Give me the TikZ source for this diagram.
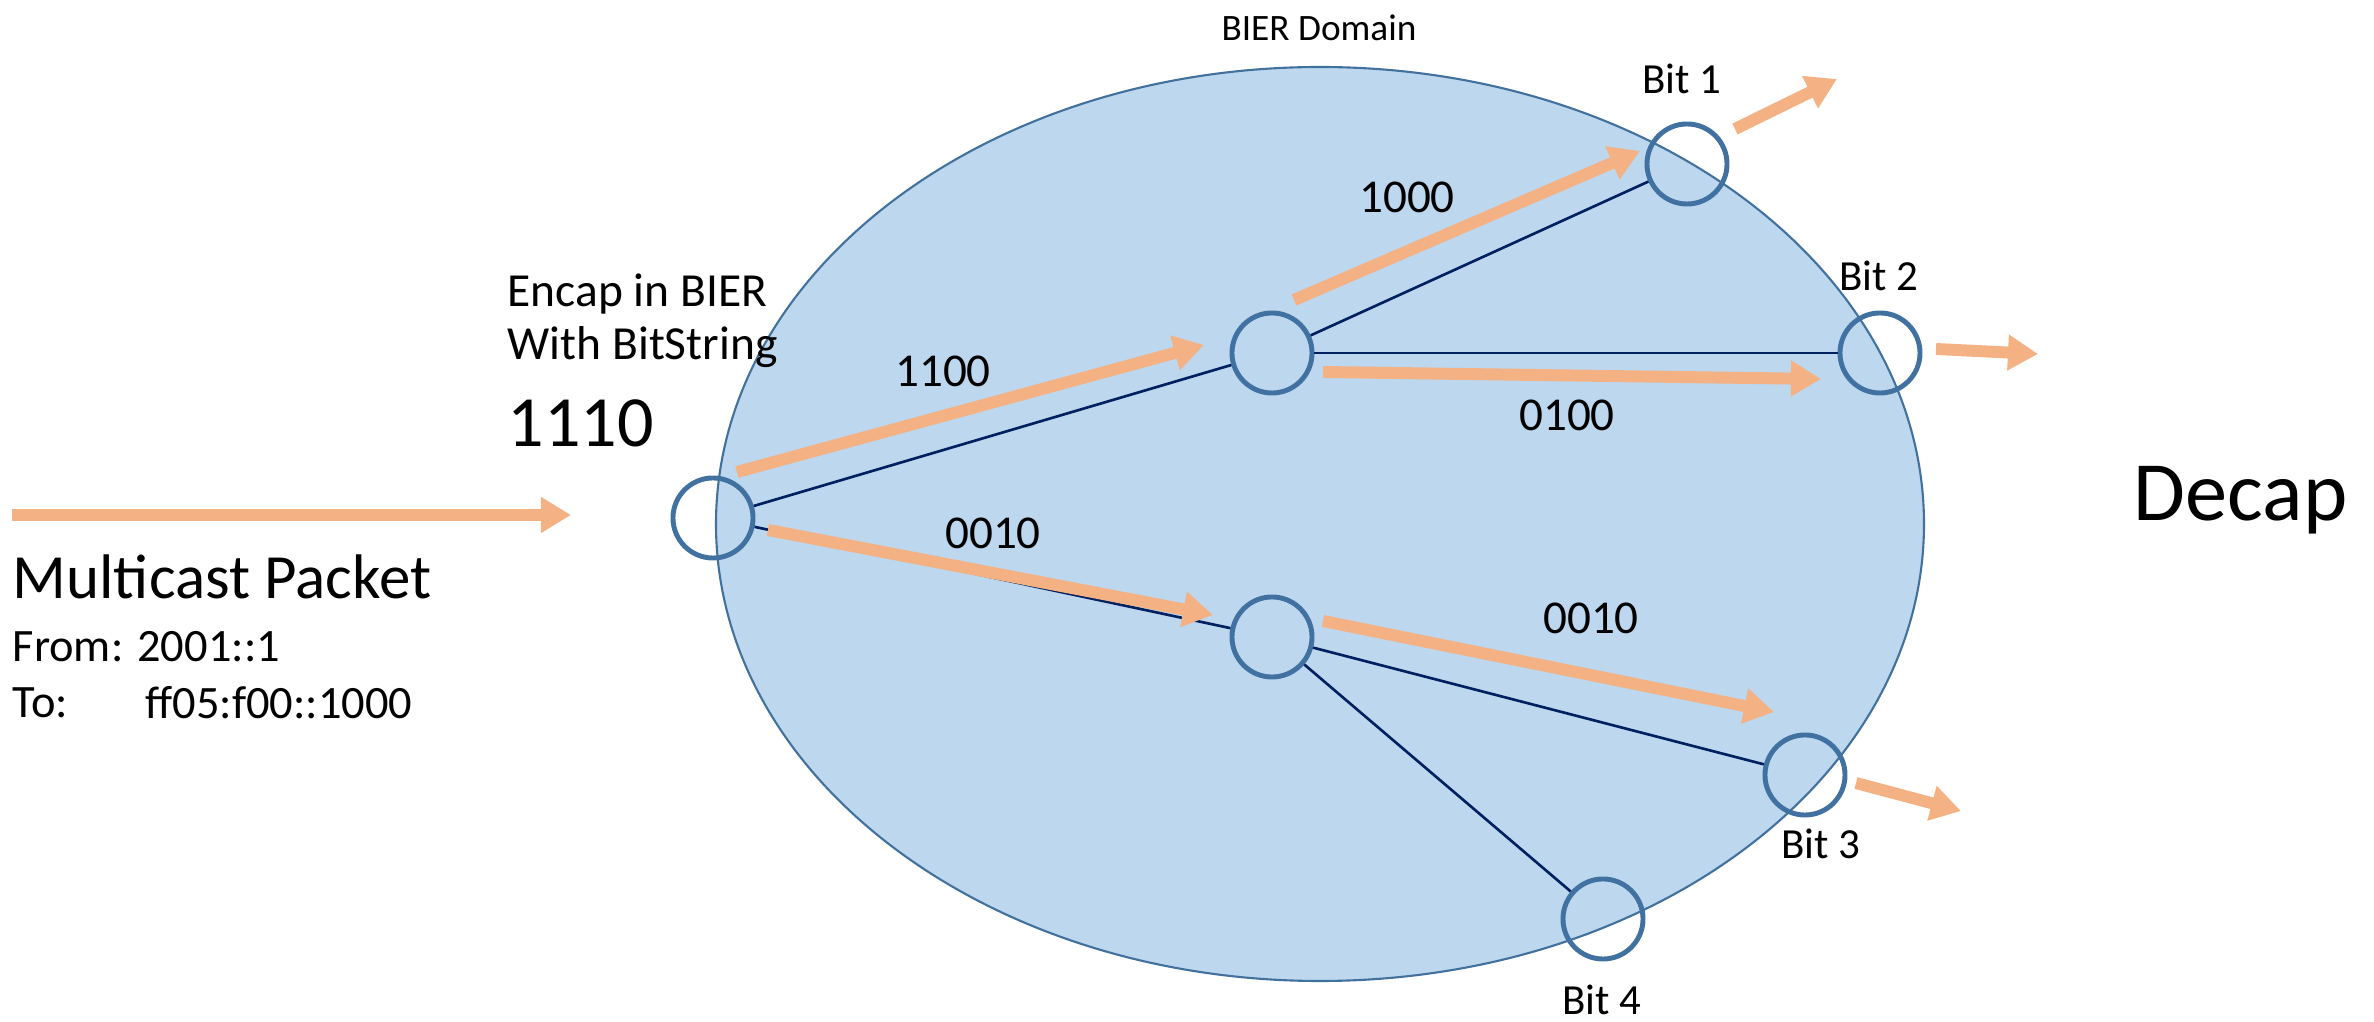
\documentclass[tikz,border=0pt]{standalone}
\usepackage{fontspec}
\setmainfont{Carlito}
\usetikzlibrary{arrows.meta}
\definecolor{domainfill}{RGB}{189,215,238}
\definecolor{domainedge}{RGB}{65,113,156}
\definecolor{routeredge}{RGB}{65,113,160}
\definecolor{linknavy}{RGB}{0,32,96}
\definecolor{pktorange}{RGB}{244,177,131}
\tikzset{
  router/.style={
    circle,
    draw=routeredge,
    line width=1.4pt,
    minimum size=0.8cm,
    inner sep=0pt
  },
  link/.style={
    draw=linknavy,
    line width=0.75pt
  },
  pkt/.style={
    draw=pktorange,
    line width=3.4pt,
    -{Triangle[length=0.3cm, width=0.34cm]}
  },
  bits/.style={
    font=\fontsize{12.2}{14}\selectfont
  },
  mask/.style={
    font=\fontsize{13.4}{15}\selectfont
  },
  txt/.style={
    anchor=west,
    inner sep=0pt
  }
}

\begin{document}
\begin{tikzpicture}[x=0.01cm, y=-0.01cm]
  \useasboundingbox (0,0) rectangle (2374,1022);

  % domain
  \fill[domainfill, draw=domainedge, line width=0.6pt] (1320,524) ellipse [x radius=604, y radius=457];
  \node[font=\fontsize{10.6}{13}\selectfont] (domain) at (1319,28) {BIER Domain};

  % routers
  \node[router] (ingress) at (713,518) {};
  \node[router] (upper) at (1272,353) {};
  \node[router] (lower) at (1272,637) {};
  \node[router] (bit1) at (1687,164) {};
  \node[router] (bit2) at (1880,353) {};
  \node[router] (bit3) at (1805,775) {};
  \node[router] (bit4) at (1603,919) {};

  \node[bits] (lbit1) at (1682,79) {Bit 1};
  \node[bits] (lbit2) at (1879,276) {Bit 2};
  \node[bits] (lbit3) at (1821,844) {Bit 3};
  \node[bits] (lbit4) at (1602,1000) {Bit 4};

  % links
  \draw[link] (ingress) -- (upper);
  \draw[link] (ingress) -- (lower);
  \draw[link] (upper) -- (bit1);
  \draw[link] (upper) -- (bit2);
  \draw[link] (lower) -- (bit3);
  \draw[link] (lower) -- (bit4);

  % packet copies
  \coordinate (src) at (12,515);
  \coordinate (srcend) at (571,515);
  \coordinate (ab0) at (737,472);
  \coordinate (ab1) at (1204,345);
  \coordinate (b10) at (1294,300);
  \coordinate (b11) at (1640,151);
  \coordinate (b20) at (1323,372);
  \coordinate (b21) at (1821,379);
  \coordinate (ac0) at (768,530);
  \coordinate (ac1) at (1213,615);
  \coordinate (c30) at (1323,621);
  \coordinate (c31) at (1774,712);
  \coordinate (o10) at (1735,129);
  \coordinate (o11) at (1837,79);
  \coordinate (o20) at (1936,349);
  \coordinate (o21) at (2038,354);
  \coordinate (o30) at (1856,783);
  \coordinate (o31) at (1961,811);

  \draw[pkt] (src) -- (srcend);
  \draw[pkt] (ab0) -- (ab1);
  \draw[pkt] (b10) -- (b11);
  \draw[pkt] (b20) -- (b21);
  \draw[pkt] (ac0) -- (ac1);
  \draw[pkt] (c30) -- (c31);
  \draw[pkt] (o10) -- (o11);
  \draw[pkt] (o20) -- (o21);
  \draw[pkt] (o30) -- (o31);

  \node[mask] (s1100) at (943,371) {1100};
  \node[mask] (s1000) at (1407,197) {1000};
  \node[mask] (s0100) at (1567,415) {0100};
  \node[mask] (s0010a) at (993,533) {0010};
  \node[mask] (s0010b) at (1591,618) {0010};

  % texts
  \node[txt, align=left, font=\fontsize{13.5}{15}\selectfont] (encap) at (507,321) {Encap in BIER\\With BitString};
  \node[txt, font=\fontsize{20.5}{24}\selectfont] (bitstring) at (507,423) {1110};
  \node[txt, font=\fontsize{24}{28}\selectfont] (decap) at (2133,500) {Decap};
  \node[txt, font=\fontsize{17.9}{22}\selectfont] (mcast) at (12,577) {Multicast Packet};
  \node[txt, font=\fontsize{13.2}{15}\selectfont] (from) at (12,647) {From: 2001::1};
  \node[txt, font=\fontsize{13.2}{15}\selectfont] (to) at (12,703) {To:};
  \node[txt, font=\fontsize{13.2}{15}\selectfont] (group) at (145,703) {ff05:f00::1000};
\end{tikzpicture}
\end{document}
